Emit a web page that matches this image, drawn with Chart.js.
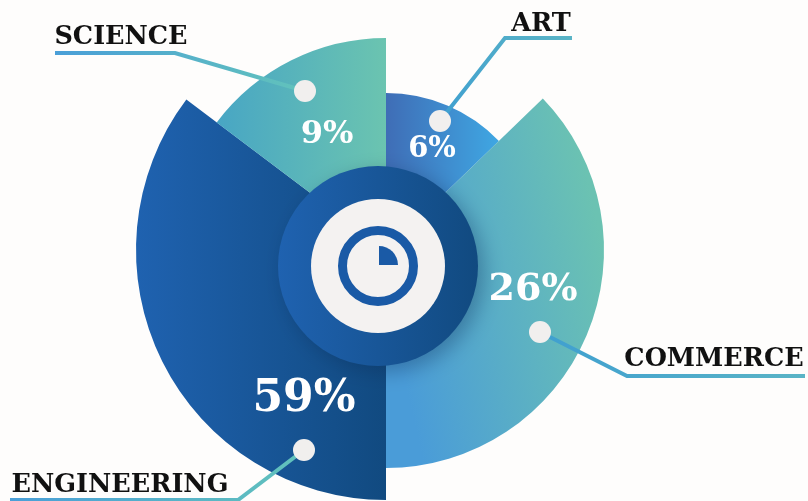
<!DOCTYPE html>
<html lang="en">
<head>
    <meta charset="UTF-8">
    <title>Stream share</title>
    <script src="https://cdnjs.cloudflare.com/ajax/libs/Chart.js/4.4.1/chart.umd.min.js"></script>
    <style>
        html, body { margin: 0; padding: 0; background: #fefdfc; overflow: hidden; }
        canvas { display: block; }
    </style>
</head>
<body>
    <canvas id="myChart" width="808" height="501"></canvas>

    <script>
        // clockwise from 12 o'clock
        const categories = ['ART', 'COMMERCE', 'ENGINEERING', 'SCIENCE'];
        const percentages = [6, 26, 59, 9];
        const sliceReach = [157, 218, 250, 212];  // radial length of each slice
        const sliceSweep = [46, 134, 127, 53];    // degrees the slice covers in the drawing

        const SERIF = '"DejaVu Serif", "Liberation Serif", serif';
        const ctx = document.getElementById('myChart').getContext('2d');

        function gradient(x0, y0, x1, y1, from, to) {
            const g = ctx.createLinearGradient(x0, y0, x1, y1);
            g.addColorStop(0, from);
            g.addColorStop(1, to);
            return g;
        }

        const sliceFills = [
            gradient(386, 0, 497, 0, '#3f6db6', '#3fa6e2'),
            gradient(386, 300, 604, 250, '#4a9cd8', '#6bc2b2'),
            gradient(136, 0, 386, 0, '#1f62b0', '#114a80'),
            gradient(217, 0, 386, 0, '#48a6c4', '#6bc4b0')
        ];

        // label placement for the callouts, same order as categories
        const callouts = [
            { dot: [440, 121], path: [[505, 38], [572, 38]], text: [541, 24], pct: [432, 149], pctSize: 29, c0: '#3f9fd0', c1: '#5ab4c6' },
            { dot: [540, 332], path: [[627, 376], [805, 376]], text: [714, 359], pct: [533, 290], pctSize: 38, c0: '#3f9fd0', c1: '#5ab4c6' },
            { dot: [304, 450], path: [[238, 500], [10, 500]], text: [120, 485], pct: [304, 400], pctSize: 44, c0: '#62c3bb', c1: '#4a9fd8' },
            { dot: [305, 91], path: [[175, 53], [55, 53]], text: [121, 37], pct: [327, 135], pctSize: 32, c0: '#62c3bb', c1: '#4a9fd8' }
        ];

        const hubPlugin = {
            id: 'hub',
            afterDatasetsDraw(chart) {
                const c = chart.ctx;
                const hx = 378, hy = 266;

                // dark hub with soft shadow
                c.save();
                c.shadowColor = 'rgba(10, 40, 80, 0.35)';
                c.shadowBlur = 20;
                c.shadowOffsetX = 6;
                c.shadowOffsetY = 6;
                c.fillStyle = gradient(hx - 100, 0, hx + 100, 0, '#1f62b0', '#114a80');
                c.beginPath();
                c.arc(hx, hy, 100, 0, Math.PI * 2);
                c.fill();
                c.restore();

                c.fillStyle = '#f4f2f1';
                c.beginPath();
                c.arc(hx, hy, 67, 0, Math.PI * 2);
                c.fill();

                c.strokeStyle = '#1a5aa6';
                c.lineWidth = 9;
                c.beginPath();
                c.arc(hx, hy, 35.5, 0, Math.PI * 2);
                c.stroke();

                c.fillStyle = '#1a5aa6';
                c.beginPath();
                c.moveTo(379, 265);
                c.lineTo(379, 246);
                c.arc(379, 265, 19, -Math.PI / 2, 0);
                c.closePath();
                c.fill();

                // callouts
                callouts.forEach((o, i) => {
                    const last = o.path[o.path.length - 1];
                    c.strokeStyle = gradient(o.dot[0], o.dot[1], last[0], last[1], o.c0, o.c1);
                    c.lineWidth = 4;
                    c.lineJoin = 'miter';
                    c.beginPath();
                    c.moveTo(o.dot[0], o.dot[1]);
                    o.path.forEach(p => c.lineTo(p[0], p[1]));
                    c.stroke();

                    c.fillStyle = '#f1efee';
                    c.beginPath();
                    c.arc(o.dot[0], o.dot[1], 11, 0, Math.PI * 2);
                    c.fill();

                    c.textAlign = 'center';
                    c.textBaseline = 'middle';
                    c.fillStyle = '#111111';
                    c.font = 'bold 25.5px ' + SERIF;
                    c.fillText(categories[i], o.text[0], o.text[1]);

                    c.fillStyle = '#ffffff';
                    c.font = 'bold ' + o.pctSize + 'px ' + SERIF;
                    c.fillText(percentages[i] + '%', o.pct[0], o.pct[1]);
                });
            }
        };

        new Chart(ctx, {
            type: 'polarArea',
            data: {
                labels: categories,
                datasets: [{
                    data: sliceReach,
                    angle: c => sliceSweep[c.dataIndex],
                    backgroundColor: sliceFills,
                    borderWidth: 0
                }]
            },
            options: {
                responsive: false,
                animation: false,
                devicePixelRatio: 1,
                layout: { padding: { left: 0, right: 36, top: 0, bottom: 1 } },
                scales: { r: { display: false, min: 0, max: 250, startAngle: 0 } },
                plugins: { legend: { display: false }, tooltip: { enabled: false } }
            },
            plugins: [hubPlugin]
        });
    </script>
</body>
</html>
